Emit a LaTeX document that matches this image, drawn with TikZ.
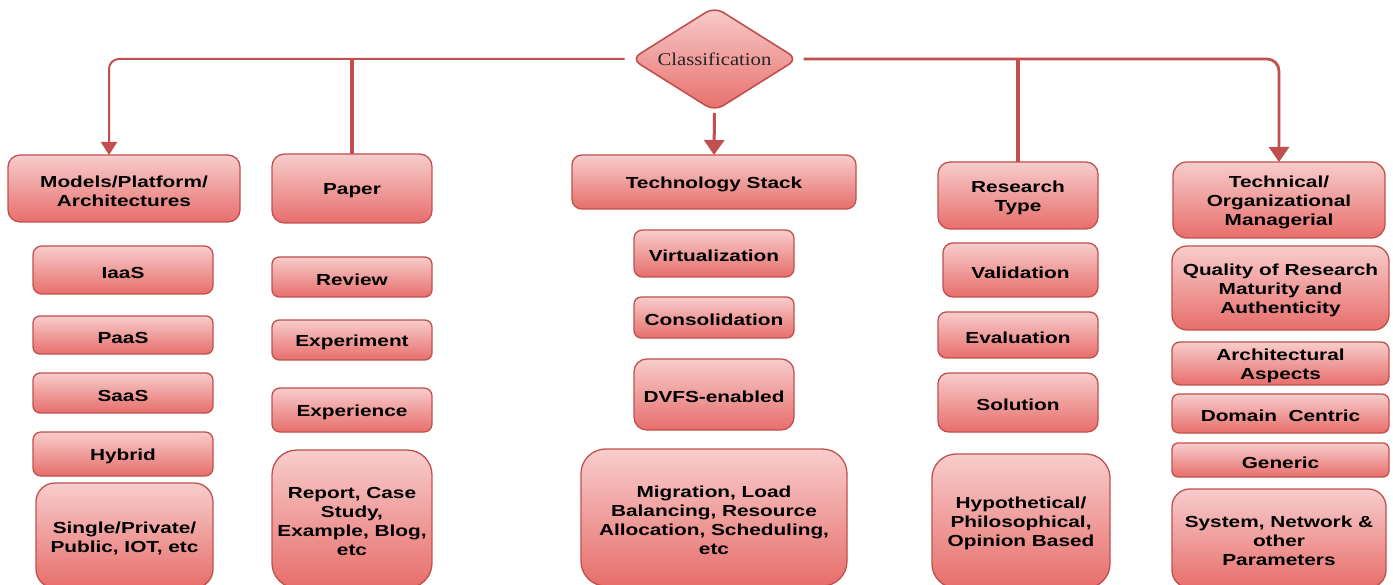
\documentclass[tikz,border=0pt]{standalone}
\usepackage{fontspec}
\setmainfont{Liberation Sans}
\newfontfamily\boxfont{Liberation Sans}[FakeStretch=1.3]
\newfontfamily\hubfont{Liberation Serif}[FakeStretch=1.15]
\usetikzlibrary{arrows.meta,shapes.geometric}

\definecolor{edge}{RGB}{192,80,77}
\definecolor{fillTop}{RGB}{247,205,204}
\definecolor{fillBot}{RGB}{231,110,107}

\tikzset{
  box/.style={draw=edge, line width=1.3pt, top color=fillTop, bottom color=fillBot,
    inner sep=0pt, outer sep=0pt},
  boxtext/.style={align=center, text=black, inner sep=0pt, yshift=-2.5pt,
    font=\boxfont\bfseries\fontsize{16}{19}\selectfont},
  hub/.style={diamond, draw=edge, line width=1.6pt, top color=fillTop, bottom color=fillBot,
    inner sep=0pt, outer sep=0pt, rounded corners=10pt},
  hublabel/.style={font=\hubfont\fontsize{18}{20}\selectfont, text=black!85},
  conn/.style={draw=edge, line width=2pt},
  tipS/.style={-{Triangle[width=16pt,length=13pt]}},
  tipL/.style={-{Triangle[width=20pt,length=15pt]}},
}

% rounded box given by its left, top, right, bottom edges (y grows downwards)
\newcommand\cbox[6]{%
  \pgfmathsetmacro\boxW{#4-#2}\pgfmathsetmacro\boxH{#5-#3}%
  \pgfmathsetmacro\boxX{(#2+#4)/2}\pgfmathsetmacro\boxY{(#3+#5)/2}%
  \pgfmathsetmacro\boxR{0.18*min(\boxW,\boxH)}%
  \node[box, minimum width=\boxW pt, minimum height=\boxH pt,
        rounded corners=\boxR pt, label={[boxtext]center:{#6}}]
        (#1) at (\boxX pt,-\boxY pt) {};}

\begin{document}
\begin{tikzpicture}
\useasboundingbox (0,0) rectangle (1393pt,-585pt);

% central decision
\node[hub, minimum width=166pt, minimum height=104pt] (cls) at (714.5pt,-59pt) {};
\node[hublabel] (clsText) at (cls.center) {Classification};

% column 1
\cbox{models}{8}{155}{240}{222}{Models/Platform/\\Architectures}
\cbox{iaas}{33}{246}{213}{294}{IaaS}
\cbox{paas}{33}{316}{213}{354}{PaaS}
\cbox{saas}{33}{373}{213}{413}{SaaS}
\cbox{hybrid}{33}{432}{213}{476}{Hybrid}
\cbox{single}{36}{483}{213}{588}{Single/Private/\\Public, IOT, etc}

% column 2
\cbox{paper}{272}{154}{432}{223}{Paper}
\cbox{review}{272}{257}{432}{297}{Review}
\cbox{experiment}{272}{320}{432}{360}{Experiment}
\cbox{experience}{272}{388}{432}{432}{Experience}
\cbox{report}{272}{450}{432}{588}{Report, Case\\Study,\\Example, Blog,\\etc}

% column 3
\cbox{stack}{572}{155}{856}{209}{Technology Stack}
\cbox{virt}{634}{230}{794}{277}{Virtualization}
\cbox{cons}{634}{297}{794}{338}{Consolidation}
\cbox{dvfs}{634}{359}{794}{430}{DVFS-enabled}
\cbox{migr}{581}{449}{847}{586}{Migration, Load\\Balancing, Resource\\Allocation, Scheduling,\\etc}

% column 4
\cbox{rtype}{938}{162}{1098}{229}{Research\\Type}
\cbox{valid}{943}{243}{1098}{297}{Validation}
\cbox{eval}{938}{312}{1098}{358}{Evaluation}
\cbox{sol}{938}{373}{1098}{432}{Solution}
\cbox{hypo}{932}{454}{1110}{588}{Hypothetical/\\Philosophical,\\Opinion Based}

% column 5
\cbox{techo}{1173}{162}{1385}{238}{Technical/\\Organizational\\Managerial}
\cbox{quality}{1172}{246}{1389}{330}{Quality of Research\\Maturity and\\Authenticity}
\cbox{arch}{1172}{342}{1389}{385}{Architectural\\Aspects}
\cbox{domain}{1172}{394}{1389}{433}{Domain\ \ Centric}
\cbox{generic}{1172}{443}{1389}{477}{Generic}
\cbox{system}{1172}{489}{1386}{588}{System, Network \&\\other\\Parameters}

% connectors
\draw[conn, tipS, rounded corners=10pt, shorten <=7pt]
  (cls.west) -| ([xshift=-15pt]models.north);
\draw[conn, line width=2.8pt, tipL, rounded corners=12pt, shorten <=6pt]
  (cls.east) -| (techo.north);
\draw[conn, line width=3pt, tipL] ([yshift=-2pt]cls.south) -- (stack.north);
\coordinate (paperTop) at (paper.north |- cls.west);
\draw[conn, line width=3.5pt] (paperTop) -- (paper.north);
\coordinate (rtypeTop) at (rtype.north |- cls.east);
\draw[conn, line width=3.2pt] (rtypeTop) -- (rtype.north);
\end{tikzpicture}
\end{document}
